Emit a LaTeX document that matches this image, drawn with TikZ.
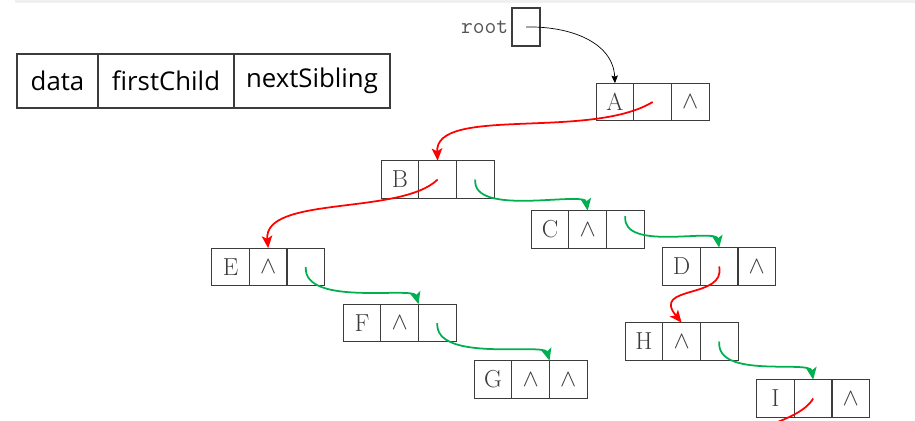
\documentclass[tikz,border=0pt]{standalone}
\usepackage{fontspec}
\newfontfamily\legendfont{Open Sans}
\usetikzlibrary{positioning}
\usetikzlibrary{arrows.meta}
\definecolor{myRed}{RGB}{255,0,0}
\definecolor{myGreen}{RGB}{0,176,80}
\definecolor{myGray1}{RGB}{240,240,240}
\definecolor{myGray2}{RGB}{85,85,85}
\definecolor{myGray3}{RGB}{60,60,60}

\begin{document}
\begin{tikzpicture}[x=0.03cm,y=-0.03cm,->,>={Stealth[length=10.5pt,width=9pt,inset=2.5pt]},node distance=0pt,
  cell/.style={rectangle,draw=myGray3,line width=0.9pt,inner sep=0pt,outer sep=0pt,
  minimum width=1.13cm,minimum height=1.13cm,text=myGray3,font=\fontsize{21}{22}\selectfont},
  root box/.style={rectangle,draw=myGray3,line width=0.9pt,inner sep=0pt,outer sep=0pt,
  minimum width=0.84cm,minimum height=1.14cm},
  root text/.style={inner sep=0pt,text=myGray2,font=\fontsize{19.5}{22}\ttfamily},
  legend/.style={rectangle,draw=myGray3,line width=0.9pt,inner sep=0pt,outer sep=0pt,
  minimum height=1.62cm,font=\legendfont\fontsize{22}{24}\selectfont},
  red arrow/.style={draw=myRed,line width=1.5pt},
  green arrow/.style={draw=myGreen,line width=1.5pt},
  root arrow/.style={draw=black,line width=0.6pt,>={Stealth[length=6.5pt,width=5.5pt,inset=1pt]}}]

  \clip (0,0) rectangle (915,421);
  \path[fill=myGray1] (15,0) rectangle (915,3);

% The legend
  \node[legend,minimum width=2.43cm] (data) at (57.5,81) {data};
  \node[legend,minimum width=4.08cm] (firstChild) [right=of data] {firstChild};
  \node[legend,minimum width=4.68cm] (nextSibling) [right=of firstChild] {nextSibling};

% The root pointer
  \node[root box] (root) at (526,27) {};
  \node[root text] (rootlabel) [left=3pt of root] {root};

% The records
  \node[cell] (A) at (615,102) {A};
  \node[cell] (Afc) [right=of A] {};
  \node[cell] (Ans) [right=of Afc] {$\wedge$};
  \node[cell] (B) at (400,179.5) {B};
  \node[cell] (Bfc) [right=of B] {};
  \node[cell] (Bns) [right=of Bfc] {};
  \node[cell] (C) at (550,229.5) {C};
  \node[cell] (Cfc) [right=of C] {$\wedge$};
  \node[cell] (Cns) [right=of Cfc] {};
  \node[cell] (D) at (681.5,266.5) {D};
  \node[cell] (Dfc) [right=of D] {};
  \node[cell] (Dns) [right=of Dfc] {$\wedge$};
  \node[cell] (E) at (230.5,267) {E};
  \node[cell] (Efc) [right=of E] {$\wedge$};
  \node[cell] (Ens) [right=of Efc] {};
  \node[cell] (F) at (362,323) {F};
  \node[cell] (Ffc) [right=of F] {$\wedge$};
  \node[cell] (Fns) [right=of Ffc] {};
  \node[cell] (G) at (493,379.5) {G};
  \node[cell] (Gfc) [right=of G] {$\wedge$};
  \node[cell] (Gns) [right=of Gfc] {$\wedge$};
  \node[cell] (H) at (644,341.5) {H};
  \node[cell] (Hfc) [right=of H] {$\wedge$};
  \node[cell] (Hns) [right=of Hfc] {};
  \node[cell] (I) at (775.5,398.5) {I};
  \node[cell] (Ifc) [right=of I] {};
  \node[cell] (Ins) [right=of Ifc] {$\wedge$};
  \coordinate (Iend) at (768,426);

% The arrows between the nodes
  \draw[root arrow] (root.center) .. controls (570,26) and (613,42) .. (A.north);
  \draw[red arrow] (Afc.center) .. controls +(-63,38) and +(-3,-55) .. (Bfc.north);% first child
  \draw[red arrow] (Bfc.center) .. controls +(-37,36) and +(-5,-53) .. (Efc.north);
  \draw[red arrow] (Dfc.center) .. controls +(7,33) and +(-31,-38) .. (Hfc.north);
  \draw[red arrow,-] (Ifc.center) .. controls +(-8,14) and +(14,-6) .. (Iend);
  \draw[green arrow] (Bns.center) .. controls +(-4,38) and +(-3,-20) .. (Cfc.north);% next sibling
  \draw[green arrow] ([yshift=0.4cm]Cns.center) .. controls +(-4,36) and +(-3,-20) .. (Dfc.north);
  \draw[green arrow] (Ens.center) .. controls +(-3,40) and +(-5,-18) .. (Fns.north west);
  \draw[green arrow] (Fns.center) .. controls +(-3,40) and +(-5,-18) .. (Gns.north west);
  \draw[green arrow] (Hns.center) .. controls +(-4,38) and +(-3,-20) .. (Ifc.north);

\end{tikzpicture}
\end{document}
